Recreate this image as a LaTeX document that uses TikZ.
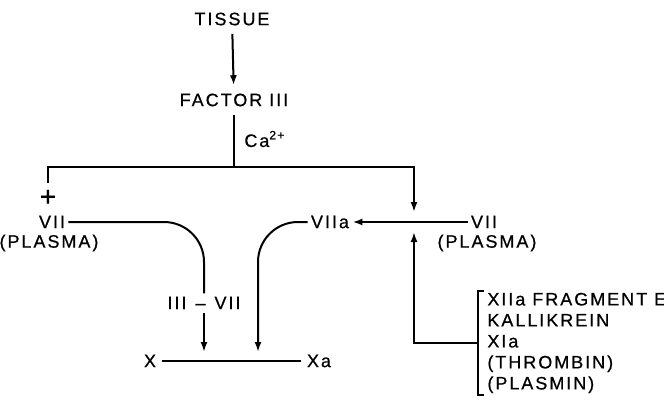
\documentclass[tikz,border=0pt]{standalone}
\usepackage{fontspec}
\newfontfamily\leroy{Liberation Sans}[LetterSpace=11,FakeBold=0.6]
\usetikzlibrary{positioning,arrows.meta,calc}
\tikzset{
  >={Latex[length=5pt,width=3.5pt]},
  lbl/.style={font=\leroy\fontsize{9}{10.5}\selectfont,inner sep=1.5pt},
  link/.style={line width=1pt},
  flow/.style={->,line width=1pt},
}

\begin{document}
\begin{tikzpicture}[x=0.5pt,y=-0.5pt]
  \useasboundingbox (0,0) rectangle (664,401);
  % source and factor III
  \node[lbl,inner sep=4pt] (tissue) at (232,19) {TISSUE};
  \node[lbl,inner sep=4pt] (factor) at (234,100) {FACTOR III};
  \node[lbl,anchor=west] (ca) at (241,139) {Ca\textsuperscript{2+}};
  \coordinate (top) at (414,167);
  \coordinate (meet) at (414,222);
  % factor VII, both sides
  \node[lbl,inner sep=3.5pt,font=\leroy\fontsize{14}{14}\selectfont] (plus) at (48,198) {+};
  \node[lbl] (vii) at (52,222) {VII};
  \node[lbl] (plasmaL) at (49,243) {(PLASMA)};
  \node[lbl] (viir) at (484,222) {VII};
  \node[lbl] (plasmaR) at (487,243) {(PLASMA)};
  \node[lbl] (viia) at (330,222) {VIIa};
  \node[lbl,fill=white] (iiivii) at (204,303) {III\enspace\textendash\enspace VII};
  % factor X
  \node[lbl,inner sep=3pt] (fx) at (150,361) {X};
  \node[lbl,inner sep=3pt] (fxa) at (319,361) {Xa};
  \coordinate (hitA) at (204,360);
  \coordinate (hitB) at (258,360);
  % activators
  \node[lbl,anchor=west,align=left,inner xsep=4.5pt,inner ysep=0.5pt] (acts) at (478,343)
    {XIIa FRAGMENT E\\KALLIKREIN\\XIa\\(THROMBIN)\\(PLASMIN)};

  \draw[flow] (tissue) -- (factor);
  \draw[link] (factor.south) -- (factor.south |- top);
  \draw[flow,shorten >=5pt] (plus.north) |- (top) -- (meet);
  \draw[flow] (viir.west) -- (viia.east);
  \draw[flow,shorten >=5pt] (acts.west) -| (meet);
  \draw[link,rounded corners=20pt] (vii.east) -| (iiivii.north);
  \draw[flow,shorten >=4pt] (iiivii.south) -- (hitA);
  \draw[flow,rounded corners=20pt,shorten >=4pt] (viia.west) -| (hitB);
  \draw[link] (fx) -- (fxa);
  \draw[link] ([xshift=3pt]acts.north west) -- (acts.north west)
    -- (acts.south west) -- ([xshift=3pt]acts.south west);
\end{tikzpicture}
\end{document}
